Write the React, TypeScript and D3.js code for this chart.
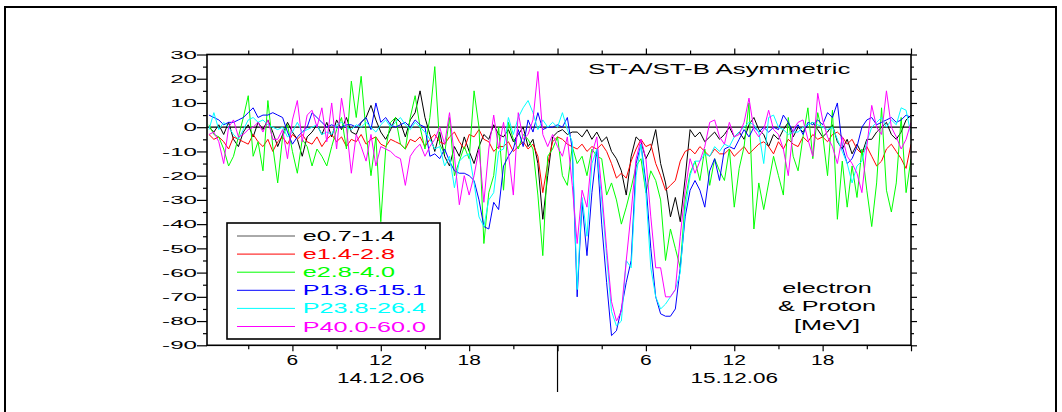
import { useEffect, useRef } from 'react';
import * as d3 from 'd3';

// hours since 14.12.06 00:00, one sample every 20 min
const hours = d3.range(1, 145).map(i => i / 3);

// ST-A minus ST-B asymmetry, per channel
const e07 = [
  0, -2, 1, -3, 2, -5, -8, -2, 1, -4, 2, -1,
  3, -2, -8, -3, 2, -2, -5, -12, -4, -2, 1, -3,
  2, -4, 3, -1, 4, -2, -3, 2, 4, 9, 3, -2,
  -5, -1, 4, 2, -4, 3, 6, 15, 4, -3, -10, -2,
  -12, -16, -8, -12, -4, -10, -15, -8, -3, -5, 1, -3,
  -4, -1, -6, -3, 0, -8, -5, -15, -38, -20, -4, -2,
  -1, -3, -2, -2, -4, -1, -5, -2, -6, -4, -10, -13,
  -18, -28, -12, -4, -6, -13, -9, -1, -15, -23, -37, -29,
  -39, -21, -1, -4, -2, -6, -4, -2, -5, -3, 0, -4,
  -2, -5, 1, 4, -1, -3, -8, -3, -5, -1, 2, -4,
  0, -2, 1, 2, -1, -4, -2, 1, -6, -9, -5, -11,
  -7, -11, -5, -5, -2, 0, 2, -3, -5, -2, 3, 5,
];
const e14 = [
  -3, -5, -4, -6, -9, -4, -5, -6, -7, -3, -6, -8,
  -5, -10, -6, -4, -7, -3, -5, -3, -6, -7, -4, -8,
  -5, -3, -6, -4, -8, -5, -6, -3, -7, -5, -4, -7,
  -8, -5, -6, -7, -9, -5, -6, -4, -8, -5, -3, -6,
  -7, -4, -2, -6, -9, -3, -4, -1, -5, -6, -10, -8,
  -8, -6, -10, -8, -6, -9, -7, -12, -27, -15, -6, -4,
  -5, -7, -8, -9, -7, -10, -8, -9, -7, -10, -15, -21,
  -19, -21, -14, -9, -5, -8, -7, -15, -20, -26, -24, -22,
  -14, -10, -9, -11, -8, -10, -12, -9, -11, -11, -9, -12,
  -10, -8, -11, -9, -7, -6, -8, -11, -6, -9, -5, -7,
  -8, -4, -6, -3, -5, -4, -6, -3, -2, -4, -7, -5,
  -9, -11, -8, -12, -16, -14, -9, -7, -10, -13, -17, -7,
];
const e28 = [
  1, -3, -4, -9, -16, -12, -4, 4, 13, -12, -6, -18,
  11, -8, -23, -4, 1, -10, -19, -5, -8, -16, -9, -12,
  -16, -8, -1, 4, -9, 19, 4, 21, -2, -20, -4, -39,
  -9, 2, 4, -7, -9, 4, 13, 0, -9, 4, 25, -7,
  -11, 4, -20, -14, -8, -13, 15, 0, -48, -27, -20, 0,
  -26, 2, -5, -9, -3, -5, -9, -28, -53, -12, -9, -4,
  -20, -24, -8, -15, -12, -20, -9, -12, -13, -28, -23, -30,
  -40, -33, -25, -16, -13, -27, -18, -22, -30, -55, -42, -50,
  -58, -30, -19, -14, -22, -9, -24, -13, -18, -22, -9, -33,
  -17, -8, 10, -42, -23, -34, -23, -12, -20, -28, 4, -12,
  -18, -4, 8, -13, 6, -3, -20, 7, -38, -14, -33, -16,
  -29, -9, -26, -41, -23, 8, -26, -35, -23, 4, -27, -13,
];
const p136 = [
  5, 4, 3, 1, 2, 2, 3, 4, 6, 8, 4, 5,
  5, 6, 5, 4, -2, -7, -4, -2, 0, 6, 4, 2,
  0, 1, 0, 0, 1, 1, 0, 2, 4, -1, 10, 2,
  4, 1, 0, 1, 2, 0, 3, 1, 0, -12, -11, -13,
  -9, -14, -18, -19, -19, -20, -22, -30, -41, -42, -31, -34,
  -16, -12, -9, -1, -8, 3, -2, 6, -1, 0, 0, 1,
  0, 4, -9, -70, -31, -53, -27, -9, -40, -64, -86, -84,
  -75, -64, -55, -15, -7, -23, -50, -70, -77, -78, -78, -75,
  -58, -37, -26, -22, -26, -33, -18, -13, -22, -9, -8, -9,
  -5, -1, -4, 0, -2, 0, -2, 0, -1, 5, 2, -2,
  1, -3, 2, 1, 3, 1, 6, 4, 10, -8, -15, -13,
  -8, 0, 3, 4, 1, 2, 3, 4, 2, 3, 5, 4,
];
const p238 = [
  -1, 6, -1, 2, 0, -3, -5, -1, 3, 4, 2, 3,
  1, 0, -1, 0, -4, -2, 2, -2, -1, 0, 1, -3,
  -2, -3, 1, 2, 0, -1, 1, 0, 2, 0, -2, 1,
  3, 0, 2, 4, 1, -1, 2, 0, -2, -5, -9, -8,
  -16, -12, -25, -14, -12, -11, -23, -37, -41, -30, -27, -10,
  -9, 4, -3, 4, 8, 11, 6, -1, 3, 0, 2, 0,
  6, -1, -6, -67, -29, -45, -15, -9, -30, -53, -76, -82,
  -80, -55, -58, -20, -7, -27, -58, -70, -75, -73, -70, -67,
  -60, -34, -20, -14, -14, -11, -12, -8, -10, -7, -8, -4,
  -2, 0, 2, 1, -2, -15, 4, 5, 0, -1, -3, -2,
  -2, 0, 1, 2, 1, 0, -1, 0, -5, -10, -15, -23,
  -16, -14, -6, 0, 2, 4, 0, 3, 1, 8, 7, -3,
];
const p400 = [
  -3, -2, -6, -15, 0, 3, -4, -3, -1, 0, 2, -2,
  3, -5, -5, -1, -13, 3, 11, -6, 5, 7, 0, 8,
  -6, 10, -9, 12, 0, -19, -3, -8, -14, -3, -16, -8,
  -9, -10, -12, -13, -24, -12, -9, -7, -12, -8, -5, 0,
  -7, 6, -12, -32, -20, -28, -20, -9, -31, -9, 5, -9,
  2, -11, -28, 6, -5, -3, 3, 23, -3, -8, -3, -8,
  -12, -4, -24, -48, -26, -33, -11, -4, -26, -50, -72, -80,
  -76, -55, -35, -13, -5, -13, -37, -58, -58, -70, -70, -67,
  -45, -26, -13, -19, -14, -8, 2, 3, -4, -7, 2, -4,
  -3, 2, 12, -1, -4, -1, 7, -1, -3, -9, -20, -1,
  2, 3, -5, -12, 14, 3, -4, -8, -15, -4, -12, -15,
  -19, -27, -8, 9, 0, -3, 15, 0, -4, -9, -5, 2,
];

const seriesNames = ['e0.7-1.4', 'e1.4-2.8', 'e2.8-4.0', 'P13.6-15.1', 'P23.8-26.4', 'P40.0-60.0'];
const seriesColors = ['#000000', '#ff0000', '#00ff00', '#0000ff', '#00ffff', '#ff00ff'];
const allSeries = [e07, e14, e28, p136, p238, p400];

const yMajor = [-90, -80, -70, -60, -50, -40, -30, -20, -10, 0, 10, 20, 30];
const hourTicks = [6, 12, 18, 30, 36, 42];
const hourLabels = ['6', '12', '18', '6', '12', '18'];
const dayCenters = [12, 36];
const dayLabels = ['14.12.06', '15.12.06'];
const title = 'ST-A/ST-B Asymmetric';
const unitLines = ['electron', '& Proton', '[MeV]'];

const W = 1062, H = 412;
const FONT = "'Liberation Sans', Arial, sans-serif";

export default function App() {
  const svgRef = useRef<SVGSVGElement>(null);

  useEffect(() => {
    const svg = d3.select(svgRef.current);
    svg.selectAll('*').remove();

    const left = 207, right = 911, top = 54.5, bottom = 345.3;
    const x = d3.scaleLinear().domain([0.2, 48]).range([left, right]);
    const y = d3.scaleLinear().domain([-90, 30]).range([bottom, top]);

    // outer frame of the figure
    svg.append('rect')
      .attr('x', 5).attr('y', 7).attr('width', 1051).attr('height', 420)
      .attr('fill', 'none').attr('stroke', '#000').attr('stroke-width', 2);

    svg.append('defs').append('clipPath').attr('id', 'plotclip')
      .append('rect').attr('x', left).attr('y', top)
      .attr('width', right - left).attr('height', bottom - top);

    // zero line
    svg.append('line')
      .attr('x1', left).attr('x2', right)
      .attr('y1', y(0)).attr('y2', y(0))
      .attr('stroke', '#000').attr('stroke-width', 1.2);

    const line = d3.line<number>()
      .x((_, i) => x(hours[i]))
      .y(d => y(d));

    const plot = svg.append('g').attr('clip-path', 'url(#plotclip)');
    allSeries.forEach((vals, k) => {
      plot.append('path')
        .datum(vals)
        .attr('d', line)
        .attr('fill', 'none')
        .attr('stroke', seriesColors[k])
        .attr('stroke-width', 1)
        .attr('stroke-linejoin', 'round');
    });

    // plot frame
    svg.append('rect')
      .attr('x', left).attr('y', top)
      .attr('width', right - left).attr('height', bottom - top)
      .attr('fill', 'none').attr('stroke', '#000').attr('stroke-width', 1.6);

    const clean = (g: any) => {
      g.select('.domain').remove();
      g.selectAll('text').remove();
      g.selectAll('line').attr('stroke', '#000').attr('stroke-width', 1.2);
    };

    const yMinor = yMajor.slice(0, -1).map(v => v + 5);
    const xMajor = [6, 12, 18, 24, 30, 36, 42, 48];
    const xMinor = [3, 9, 15, 21, 27, 33, 39, 45];

    svg.append('g').attr('transform', `translate(${left},0)`)
      .call(d3.axisLeft(y).tickValues(yMajor).tickSize(10)).call(clean);
    svg.append('g').attr('transform', `translate(${left},0)`)
      .call(d3.axisLeft(y).tickValues(yMinor).tickSize(4)).call(clean);
    svg.append('g').attr('transform', `translate(${right},0)`)
      .call(d3.axisRight(y).tickValues(yMajor).tickSize(6)).call(clean);
    svg.append('g').attr('transform', `translate(${right},0)`)
      .call(d3.axisRight(y).tickValues(yMinor).tickSize(3)).call(clean);
    svg.append('g').attr('transform', `translate(0,${top})`)
      .call(d3.axisTop(x).tickValues(xMajor).tickSize(6)).call(clean);
    svg.append('g').attr('transform', `translate(0,${top})`)
      .call(d3.axisTop(x).tickValues(xMinor).tickSize(4)).call(clean);
    svg.append('g').attr('transform', `translate(0,${bottom})`)
      .call(d3.axisBottom(x).tickValues(xMajor).tickSize(6)).call(clean);
    svg.append('g').attr('transform', `translate(0,${bottom})`)
      .call(d3.axisBottom(x).tickValues(xMinor).tickSize(4)).call(clean);

    // day separator
    svg.append('line')
      .attr('x1', x(24)).attr('x2', x(24))
      .attr('y1', bottom).attr('y2', 392)
      .attr('stroke', '#000').attr('stroke-width', 1.2);

    // stretched text helper (the original figure is widened horizontally)
    const txt = (s: string, tx: number, ty: number, size: number, sx: number,
      anchor: string, color = '#000', dy = '0') =>
      svg.append('text')
        .attr('transform', `translate(${tx},${ty}) scale(${sx},1)`)
        .attr('text-anchor', anchor)
        .attr('dy', dy)
        .attr('font-family', FONT)
        .attr('font-size', size)
        .attr('fill', color)
        .text(s);

    yMajor.forEach(v => txt(String(v), 197, y(v), 11.5, 2.1, 'end', '#000', '0.36em'));
    hourTicks.forEach((h, i) => txt(hourLabels[i], x(h), 365, 15, 1.4, 'middle'));
    dayCenters.forEach((h, i) => txt(dayLabels[i], x(h), 382.5, 15, 1.5, 'middle'));

    txt(title, 588, 74.3, 14.5, 1.78, 'start');
    unitLines.forEach((s, i) => txt(s, 827, [292.7, 311, 330][i], 15, 1.68, 'middle'));

    // legend
    const lg = { x: 227, y: 223, w: 213, h: 116, row: 18.1, first: 236 };
    svg.append('rect')
      .attr('x', lg.x).attr('y', lg.y).attr('width', lg.w).attr('height', lg.h)
      .attr('fill', '#fff').attr('stroke', '#000').attr('stroke-width', 1.6);
    seriesNames.forEach((name, k) => {
      const ry = lg.first + k * lg.row;
      svg.append('line')
        .attr('x1', 237).attr('x2', 295).attr('y1', ry).attr('y2', ry)
        .attr('stroke', k === 0 ? '#555' : seriesColors[k]).attr('stroke-width', 1);
      txt(name, 302.7, ry + 5, 14, 1.8, 'start', seriesColors[k]);
    });
  }, []);

  return (
    <svg
      ref={svgRef}
      width={W}
      height={H}
      style={{ position: 'absolute', left: 0, top: 0, background: '#fff' }}
    />
  );
}
